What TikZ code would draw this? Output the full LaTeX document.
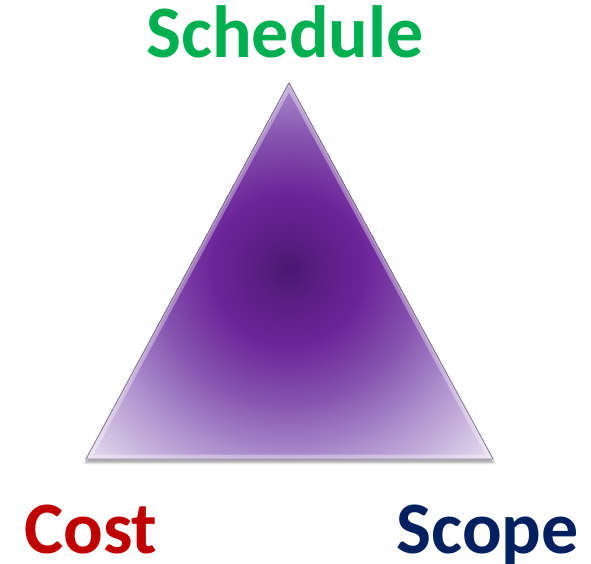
\documentclass[tikz,border=0pt]{standalone}
\usepackage{fontspec}
\setmainfont{Carlito}
\usetikzlibrary{shadows.blur}
\definecolor{schedgreen}{HTML}{00B050}
\definecolor{costred}{HTML}{C00000}
\definecolor{scopeblue}{HTML}{002060}
\definecolor{pcore}{HTML}{4A176E}
\definecolor{pinner}{HTML}{5B1E85}
\definecolor{pmid}{HTML}{6C2498}
\definecolor{pouter}{HTML}{8552AE}
\definecolor{plight}{HTML}{A98ACB}
\definecolor{pedge}{HTML}{EAE3F2}
\definecolor{rim}{HTML}{85788E}
\begin{document}
\begin{tikzpicture}[x=1pt,y=-1pt,
  tag/.style={font=\bfseries\fontsize{74}{74}\selectfont, inner sep=0pt, text depth=0pt}]
\useasboundingbox (0,0) rectangle (591,564);
\coordinate (apex) at (289,83);
\coordinate (bl) at (86,459);
\coordinate (br) at (493,459);
\coordinate (core) at (289,270);
% drop shadow under the triangle
\fill[white, blur shadow={shadow xshift=0pt, shadow yshift=-3pt,
  shadow blur radius=3pt, shadow opacity=45}] (apex) -- (bl) -- (br) -- cycle;
% body: rings of colour from a dark core out to pale lavender
\begin{scope}
  \clip (apex) -- (bl) -- (br) -- cycle;
  \foreach \ra/\rb/\ca/\cb in {187/285/plight/pedge, 132/187/pouter/plight,
      77/132/pmid/pouter, 33/77/pinner/pmid, 0/33/pcore/pinner} {
    \foreach \i in {0,...,24} {
      \pgfmathsetmacro\rr{\rb-(\rb-\ra)*\i/25}
      \pgfmathsetmacro\pp{100*\i/25}
      \fill[\ca!\pp!\cb] (core) circle (\rr);
    }
  }
  % light bevel along the edges
  \draw[white, opacity=0.35, line width=9pt, line join=miter] (apex) -- (bl) -- (br) -- cycle;
  \draw[white, opacity=0.25, line width=3pt, line join=miter] (apex) -- (bl) -- (br) -- cycle;
\end{scope}
\draw[rim, line width=0.8pt, line join=miter] (apex) -- (bl) -- (br) -- cycle;
% corner labels
\node[tag, text=schedgreen, anchor=base] (schedule) at (285,58) {Schedule};
\node[tag, text=costred, anchor=base west] (cost) at (24,553) {Cost};
\node[tag, text=scopeblue, anchor=base east] (scope) at (579,553) {Scope};
\end{tikzpicture}
\end{document}
